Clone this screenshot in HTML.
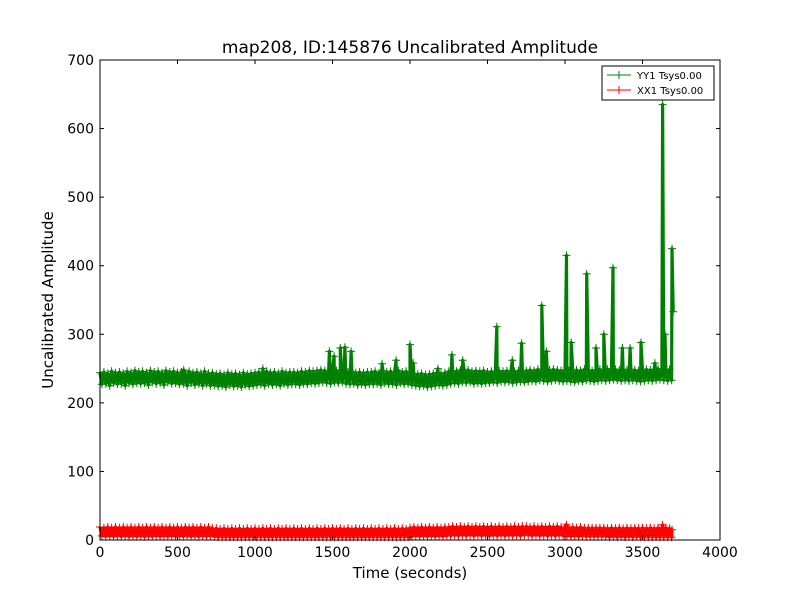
<!DOCTYPE html>
<html><head><meta charset="utf-8"><style>
body{margin:0;background:#fff;}
svg{display:block;font-family:"DejaVu Sans","Liberation Sans",sans-serif;}
</style></head><body>
<svg id="chart" width="800" height="600">
<rect width="800" height="600" fill="#fff"/>
<text x="410" y="53" font-size="17" text-anchor="middle">map208, ID:145876 Uncalibrated Amplitude</text>
<text x="410" y="578" font-size="15" text-anchor="middle">Time (seconds)</text>
<text transform="translate(53,300) rotate(-90)" font-size="15" text-anchor="middle">Uncalibrated Amplitude</text>
<g id="plot"></g>
<g id="axes"></g>
<g>
<rect x="602" y="66" width="112" height="34" fill="#fff" stroke="#000" stroke-width="1"/>
<g>
<line x1="607" y1="75" x2="631" y2="75" stroke="#008000"/><line x1="619" y1="71" x2="619" y2="79" stroke="#008000"/>
<text x="637" y="79" font-size="10">YY1 Tsys0.00</text></g>
<g>
<line x1="607" y1="90" x2="631" y2="90" stroke="#f00"/><line x1="619" y1="86" x2="619" y2="94" stroke="#f00"/>
<text x="637" y="94" font-size="10">XX1 Tsys0.00</text></g>
</g>
</svg>
<script>
const xTicks=[0,500,1000,1500,2000,2500,3000,3500,4000];
const yTicks=[0,100,200,300,400,500,600,700];
const baseStart=0, baseStep=12.5;
const yy1Base=[
244,227,245,228,243,225,246,229,244,227,245,228,243,225,246,229,244,227,247,229,
245,228,246,229,244,226,247,230,245,228,246,229,244,226,247,230,245,228,246,229,
244,227,245,228,243,225,246,229,244,226,245,228,243,225,246,228,243,225,244,226,
242,224,243,225,241,223,244,226,242,224,243,225,241,223,244,226,242,224,243,225,
244,226,245,227,243,225,246,228,244,226,245,227,243,225,246,228,244,226,245,227,
245,227,244,226,246,228,245,227,247,229,246,228,247,229,248,230,247,229,246,228,
248,230,247,229,248,230,246,228,245,227,246,228,244,226,245,227,244,226,245,227,
245,227,246,228,244,226,247,229,245,227,246,228,244,226,247,229,245,227,246,228,
244,226,243,225,242,224,243,225,241,223,242,224,243,225,244,226,243,225,244,226,
246,228,247,229,246,228,248,230,247,229,248,230,246,228,247,229,246,228,247,229,
245,229,246,230,245,229,247,231,246,230,247,231,245,229,246,230,247,231,246,230,
247,231,248,232,247,231,249,233,248,232,247,231,248,232,249,233,248,232,247,231,
248,232,247,231,246,230,248,232,247,231,249,233,248,232,247,231,248,232,249,233,
248,232,249,233,250,234,249,233,248,232,249,233,248,232,249,233,248,232,247,231,
248,232,249,233,248,232,249,233,250,234,249,233,248,232,249,233];
const yy1SpikeTimes=[540,1050,1480,1510,1550,1580,1620,1820,1910,2000,2020,2180,2270,2340,2560,2660,2720,2850,2880,3010,3040,3140,3200,3250,3310,3370,3420,3490,3580,3630,3645,3690,3698];
const yy1SpikeVals=[248,250,275,268,280,281,275,257,262,285,258,250,270,262,311,262,287,342,275,415,288,388,280,300,397,280,280,288,258,635,300,425,333];
const xx1Base=[
19,6,18,5,19,6,18,5,19,6,18,5,19,6,18,5,19,6,18,5,
19,6,18,5,19,6,18,5,19,6,18,5,19,6,18,5,19,6,18,5,
19,6,18,5,19,6,18,5,19,6,18,5,19,6,18,5,19,6,17,5,
17,4,16,4,17,4,16,4,17,4,16,4,17,4,16,4,17,4,16,4,
17,4,16,4,17,4,16,4,17,4,16,4,17,4,16,4,17,4,16,4,
17,4,16,4,17,4,16,4,17,4,16,4,17,4,16,4,17,4,16,4,
17,4,16,4,17,4,16,4,17,4,16,4,17,4,16,4,17,4,16,4,
17,4,16,4,17,4,16,4,17,4,16,4,17,4,16,4,17,4,16,4,
18,5,19,6,18,5,19,6,18,5,19,6,18,5,19,6,18,5,19,6,
19,6,20,7,19,6,20,7,19,6,20,7,19,6,20,7,19,6,20,7,
19,6,20,7,19,6,20,7,19,6,20,7,19,6,20,7,19,6,20,7,
20,7,19,6,20,7,19,6,20,7,19,6,20,7,19,6,20,7,19,6,
19,6,18,5,19,6,18,5,19,6,18,5,18,5,18,5,18,5,18,5,
18,5,17,4,18,5,17,4,18,5,17,4,18,5,17,4,18,5,17,4,
18,4,17,4,18,4,17,4,18,4,17,4,18,4,17,4];
const xx1SpikeTimes=[3010,3630,3690];
const xx1SpikeVals=[22,22,15];

const L=100,R=720,T=60,B=540;
const xs=v=>L+(v-0)/(4000-0)*(R-L);
const ys=v=>B-(v-0)/(700-0)*(B-T);
const NS="http://www.w3.org/2000/svg";
function mk(tag,attrs,parent){const e=document.createElementNS(NS,tag);for(const k in attrs)e.setAttribute(k,attrs[k]);parent.appendChild(e);return e;}
function merge(base,st,sv){const pts=base.map((v,i)=>[baseStart+i*baseStep,v]);st.forEach((t,i)=>pts.push([t,sv[i]]));pts.sort((a,b)=>a[0]-b[0]);return pts;}
const plot=document.getElementById('plot');
function drawSeries(pts,color,name){
  const g=mk('g',{},plot);
  
  
  const line=mk('polyline',{points:pts.map(p=>xs(p[0]).toFixed(1)+','+ys(p[1]).toFixed(1)).join(' '),fill:'none',stroke:color,'stroke-width':3.2,'stroke-linejoin':'round'},g);
  
  
  let d='';
  pts.forEach(p=>{const x=xs(p[0]),y=ys(p[1]);d+=`M${(x-4).toFixed(1)} ${y.toFixed(1)}h8M${x.toFixed(1)} ${(y-4).toFixed(1)}v8`;});
  const m=mk('path',{d:d,stroke:color,'stroke-width':1,fill:'none'},g);
  
  
}
drawSeries(merge(yy1Base,yy1SpikeTimes,yy1SpikeVals),'#008000','series-yy1');
drawSeries(merge(xx1Base,xx1SpikeTimes,xx1SpikeVals),'#ff0000','series-xx1');
const ax=document.getElementById('axes');
mk('rect',{x:L,y:T,width:R-L,height:B-T,fill:'none',stroke:'#000','stroke-width':1},ax);
xTicks.forEach(v=>{const x=xs(v);
  mk('line',{x1:x,y1:B,x2:x,y2:B-4,stroke:'#000'},ax);
  mk('line',{x1:x,y1:T,x2:x,y2:T+4,stroke:'#000'},ax);
  const t=mk('text',{x:x,y:B+17,'font-size':14,'text-anchor':'middle'},ax);
  
  
  t.textContent=v;});
yTicks.forEach(v=>{const y=ys(v);
  mk('line',{x1:L,y1:y,x2:L+4,y2:y,stroke:'#000'},ax);
  mk('line',{x1:R,y1:y,x2:R-4,y2:y,stroke:'#000'},ax);
  const t=mk('text',{x:L-6,y:y+5,'font-size':14,'text-anchor':'end'},ax);
  
  
  t.textContent=v;});
</script>
</body></html>
